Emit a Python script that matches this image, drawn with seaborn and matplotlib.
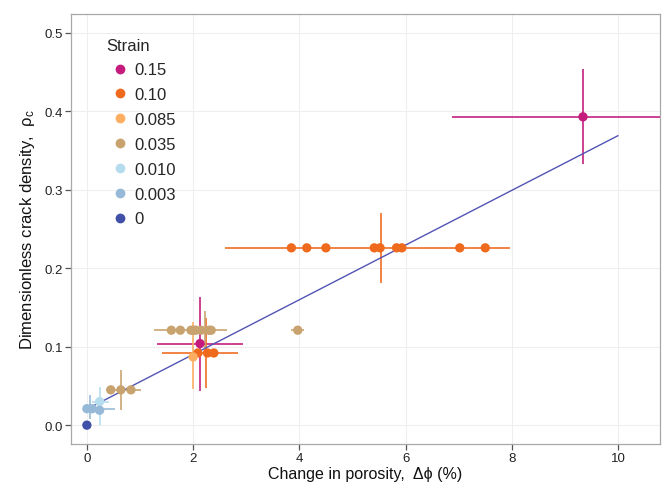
import numpy as np
import pandas as pd
import matplotlib
matplotlib.use("Agg")
import matplotlib.pyplot as plt
import seaborn as sns

# ─────────────────────────────────────────────
# DATA
# ─────────────────────────────────────────────
strain_order = ["0.15", "0.10", "0.085", "0.035", "0.010", "0.003", "0"]
strain_colors = ["#C51B7D", "#F06A1E", "#FDAE61", "#C9A36F", "#B5DDEE", "#95B9D6", "#4050A8"]

# individual measurements
pt_strain = (["0.15"] * 2 + ["0.10"] * 12 + ["0.085"] + ["0.035"] * 12
             + ["0.010"] + ["0.003"] * 3 + ["0"])
pt_x = [9.34, 2.13,
        3.85, 4.14, 4.50, 5.41, 5.52, 5.83, 5.93, 7.02, 7.50, 2.09, 2.27, 2.39,
        2.00,
        1.59, 1.76, 1.96, 2.01, 2.05, 2.15, 2.30, 2.34, 3.97, 0.45, 0.64, 0.83,
        0.24,
        0.00, 0.10, 0.24,
        0.00]
pt_y = [0.393, 0.104,
        0.226, 0.226, 0.226, 0.226, 0.226, 0.226, 0.226, 0.226, 0.226, 0.092, 0.092, 0.092,
        0.087,
        0.121, 0.121, 0.121, 0.121, 0.121, 0.121, 0.121, 0.121, 0.121, 0.045, 0.045, 0.045,
        0.030,
        0.021, 0.021, 0.019,
        0.000]

# group error bars
bar_strain = ["0.15", "0.15", "0.10", "0.10", "0.085", "0.035", "0.035", "0.035", "0.010", "0.003"]
bar_x    = [9.34, 2.13, 5.53, 2.25, 2.00, 2.23, 3.97, 0.64, 0.25, 0.05]
bar_y    = [0.393, 0.104, 0.226, 0.092, 0.087, 0.121, 0.121, 0.045, 0.030, 0.021]
bar_xmin = [6.87, 1.32, 2.60, 1.42, 2.00, 1.26, 3.84, 0.36, 0.09, -0.08]
bar_xmax = [11.81, 2.94, 7.97, 2.84, 2.00, 2.63, 4.09, 1.02, 0.41, 0.53]
bar_ymin = [0.333, 0.043, 0.181, 0.047, 0.046, 0.096, 0.121, 0.019, 0.000, 0.008]
bar_ymax = [0.454, 0.163, 0.270, 0.136, 0.131, 0.146, 0.121, 0.070, 0.048, 0.039]

# linear fit
fit_x = [0.0, 10.0]
fit_y = [0.0204, 0.369]

x_ticks = [0, 2, 4, 6, 8, 10]
y_ticks = [0.0, 0.1, 0.2, 0.3, 0.4, 0.5]

palette = dict(zip(strain_order, strain_colors))
points = pd.DataFrame({"x": pt_x, "y": pt_y, "Strain": pt_strain})
bars = pd.DataFrame({"x": bar_x, "y": bar_y, "xmin": bar_xmin, "xmax": bar_xmax,
                     "ymin": bar_ymin, "ymax": bar_ymax, "Strain": bar_strain})

# ─────────────────────────────────────────────
# PLOT
# ─────────────────────────────────────────────
sns.set_theme(style="white")
plt.rcParams["font.family"] = ["Liberation Sans", "DejaVu Sans"]
plt.rcParams["mathtext.fontset"] = "custom"
plt.rcParams["mathtext.rm"] = "Liberation Sans"
plt.rcParams["mathtext.it"] = "Liberation Sans:italic"

fig = plt.figure(figsize=(6.63, 4.85), dpi=100)
ax = fig.add_axes([0.107, 0.0825, 0.8885, 0.8865])

ax.grid(True, color="#EEEEEE", linewidth=0.8)
ax.set_axisbelow(True)

for _, b in bars.iterrows():
    ax.errorbar(b["x"], b["y"],
                xerr=[[b["x"] - b["xmin"]], [b["xmax"] - b["x"]]],
                yerr=[[b["y"] - b["ymin"]], [b["ymax"] - b["y"]]],
                fmt="none", ecolor=palette[b["Strain"]], elinewidth=1.3,
                capsize=0, alpha=0.9, zorder=2)

sns.lineplot(x=fit_x, y=fit_y, ax=ax, color="#5254B4", linewidth=1.0, zorder=3)

sns.scatterplot(data=points, x="x", y="y", hue="Strain", hue_order=strain_order,
                palette=palette, s=45, edgecolor="none", ax=ax, zorder=4)

ax.set_xlim(-0.3, 10.79)
ax.set_ylim(-0.024, 0.524)
ax.set_xticks(x_ticks)
ax.set_yticks(y_ticks)
ax.set_xticklabels([str(t) for t in x_ticks])
ax.set_yticklabels([f"{t:.1f}" for t in y_ticks])
ax.tick_params(axis="both", direction="out", length=4, width=0.9, color="#555555",
               labelsize=9.5, labelcolor="#222222", pad=2, bottom=True, left=True)

for side in ax.spines.values():
    side.set_color("#A8A8A8")
    side.set_linewidth(0.9)

ax.set_xlabel("Change in porosity,  \u0394\u03d5 (%)", fontsize=11.5, color="#111111", labelpad=1)
ax.set_ylabel(r"Dimensionless crack density,  $\mathregular{\rho_c}$", fontsize=12,
              color="#111111", labelpad=5)

leg = ax.legend(title="Strain", loc="upper left", bbox_to_anchor=(0.035, 0.98),
                frameon=False, fontsize=12, title_fontsize=12, handletextpad=0.08,
                handlelength=1.6, labelspacing=0.59, markerscale=1.05, alignment="left")

fig.savefig("out.png", dpi=100)
plt.close(fig)
